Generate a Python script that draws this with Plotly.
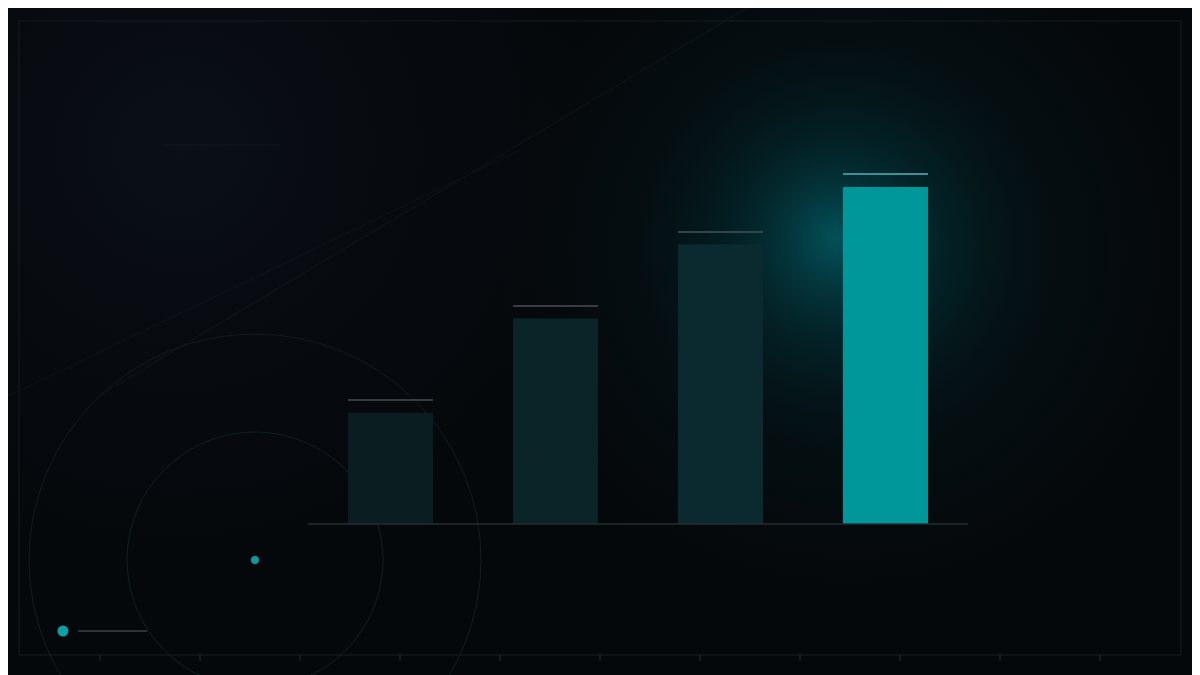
import plotly.graph_objects as go

# data
categories = ["A", "B", "C", "D"]
values = [33, 61, 83, 100]
bar_colors = ["#0a1e22", "#0a2427", "#0a2a2f", "#00979b"]
cap_colors = ["#353d42", "#353d42", "#32454a", "#3f8f95"]

# background glows: centre x, centre y (page px), diameter, centre colour
glow_x = [180, 850, 838, 832]
glow_y = [150, 250, 240, 235]
glow_size = [1150, 820, 470, 250]
glow_color = ["rgba(24,34,54,0.30)", "rgba(0,110,122,0.27)",
              "rgba(0,140,152,0.32)", "rgba(0,150,162,0.16)"]

W, H = 1200, 675
OFF = 8            # page margin around the plot div
cap_gap = 3.6      # gap between bar top and its cap line (data units)
cap_thick = 0.32

def px(x):
    return (x - OFF) / W

def py(y):
    return 1 - (y - OFF) / H

x_pos = list(range(len(categories)))

fig = go.Figure()

# glow layer on the base axes (drawn underneath the bar axes)
for gx, gy, gs, gc in zip(glow_x, glow_y, glow_size, glow_color):
    fig.add_trace(go.Scatter(
        x=[gx], y=[gy], mode="markers",
        marker=dict(size=gs, color="rgba(0,0,0,0)", line=dict(width=0),
                    gradient=dict(type="radial", color=gc)),
        hoverinfo="skip", showlegend=False,
    ))

fig.add_trace(go.Bar(
    x=x_pos, y=values, width=0.515, xaxis="x2", yaxis="y2",
    marker=dict(color=bar_colors, line=dict(width=0), cornerradius=5),
    hoverinfo="skip", showlegend=False,
))
# thin cap line above each bar
fig.add_trace(go.Bar(
    x=x_pos, y=[cap_thick] * len(values), xaxis="x2", yaxis="y2",
    base=[v + cap_gap for v in values], width=0.515,
    marker=dict(color=cap_colors, line=dict(width=0), cornerradius=0),
    hoverinfo="skip", showlegend=False,
))

shapes = []

def line(x0, y0, x1, y1, color, width=1):
    shapes.append(dict(
        type="line", xref="paper", yref="paper", layer="below",
        x0=px(x0), y0=py(y0), x1=px(x1), y1=py(y1),
        line=dict(color=color, width=width),
    ))

def circle(cx, cy, r, line_color=None, fill=None, layer="below"):
    shapes.append(dict(
        type="circle", xref="paper", yref="paper", layer=layer,
        x0=px(cx - r), x1=px(cx + r), y0=py(cy + r), y1=py(cy - r),
        fillcolor=fill if fill else "rgba(0,0,0,0)",
        line=dict(color=line_color if line_color else "rgba(0,0,0,0)", width=1),
    ))

# faint diagonals
line(100, 395, 760, 0, "#0f171c")
line(0, 400, 520, 150, "#0c1318")
line(165, 145, 280, 145, "#0d1418")

# frame and bottom ticks
shapes.append(dict(type="rect", xref="paper", yref="paper", layer="below",
                   x0=px(19), x1=px(1181), y0=py(655), y1=py(21),
                   line=dict(color="#161c21", width=1)))
for tx in range(100, 1101, 100):
    line(tx, 655, tx, 661, "#262c32")

# rings bottom-left
circle(255, 560, 226, line_color="#111e21")
circle(255, 560, 128, line_color="#12211f")
circle(255, 560, 4, fill="#0a9aa0", layer="above")

# legend-ish marker
circle(63, 631, 5.5, fill="#0aa0a8", layer="above")
line(78, 631, 147, 631, "#3e4348", 1.5)

# baseline under bars
shapes.append(dict(type="line", xref="x2", yref="y2", layer="above",
                   x0=-0.5, x1=len(values) - 0.5, y0=0, y1=0,
                   line=dict(color="#272d32", width=1.5)))

# axis ranges so bars land where they should
scale_x = 165.0
x0 = -(390.5 - OFF) / scale_x
scale_y = 3.37
y0 = -(H - (524 - OFF)) / scale_y

fig.update_layout(
    width=W, height=H,
    margin=dict(l=0, r=0, t=0, b=0),
    paper_bgcolor="#05080b",
    plot_bgcolor="rgba(0,0,0,0)",
    barmode="overlay",
    barcornerradius=5,
    shapes=shapes,
    xaxis=dict(visible=False, range=[OFF, OFF + W]),
    yaxis=dict(visible=False, range=[OFF + H, OFF]),
    xaxis2=dict(visible=False, overlaying="x", range=[x0, x0 + W / scale_x]),
    yaxis2=dict(visible=False, overlaying="y", range=[y0, y0 + H / scale_y]),
    showlegend=False,
)

fig.write_html("out.html")
